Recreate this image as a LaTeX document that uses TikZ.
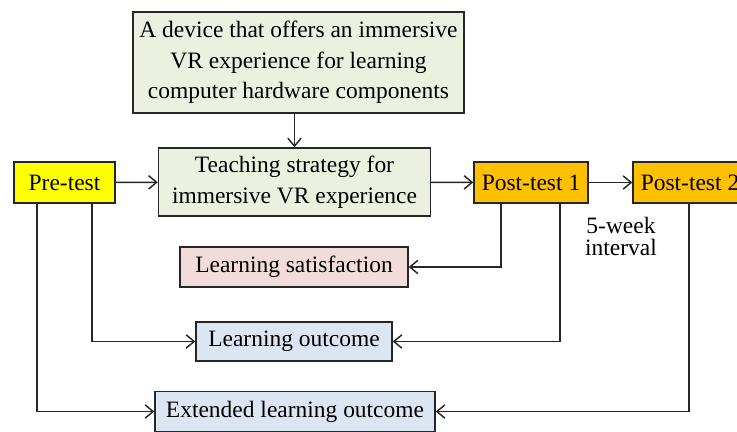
\documentclass[tikz,border=0pt]{standalone}
\usepackage{fontspec}
\setmainfont{Liberation Serif}
\usepackage{tikz}
\usetikzlibrary{arrows.meta}

\definecolor{pregreen}{HTML}{EBF1DE}
\definecolor{satpink}{HTML}{F2DCDB}
\definecolor{outblue}{HTML}{DCE6F2}
\definecolor{postorange}{HTML}{FFC000}
\definecolor{preyellow}{HTML}{FFFF00}

\begin{document}
\begin{tikzpicture}[x=0.75pt, y=-0.75pt,
    box/.style={rectangle, draw=black!85, line width=1.1pt, inner sep=0pt, align=center,
                font=\fontsize{17.6}{22.9}\selectfont},
    arr/.style={-{Straight Barb[length=6pt, width=10pt]}, line width=1.1pt, black!85}]
  \useasboundingbox (0,0) rectangle (737,431);
  \clip (0,0) rectangle (737,431);

  % Nodes
  \node[box, fill=pregreen, minimum width=331*0.75pt, minimum height=101*0.75pt] (device) at (298.5,62.5)
    {A device that offers an immersive\\VR experience for learning\\computer hardware components};
  \node[box, fill=pregreen, minimum width=272*0.75pt, minimum height=68*0.75pt] (teach) at (294.5,182)
    {Teaching strategy for\\immersive VR experience};
  \node[box, fill=preyellow, minimum width=101*0.75pt, minimum height=41*0.75pt] (pre) at (64.5,182.5) {Pre-test};
  \node[box, fill=postorange, minimum width=114*0.75pt, minimum height=41*0.75pt] (post1) at (531,182.5) {Post-test 1};
  \node[box, fill=postorange, minimum width=114*0.75pt, minimum height=41*0.75pt] (post2) at (690,182.5) {Post-test 2};
  \node[box, fill=satpink, minimum width=228*0.75pt, minimum height=40*0.75pt] (satis) at (294,267) {Learning satisfaction};
  \node[box, fill=outblue, minimum width=196*0.75pt, minimum height=39*0.75pt] (outcome) at (294,341.5) {Learning outcome};
  \node[box, fill=outblue, minimum width=280*0.75pt, minimum height=40*0.75pt] (ext) at (295,411.5) {Extended learning outcome};
  \node[align=center, inner sep=0pt, font=\fontsize{17.6}{16.5}\selectfont] (gap) at (621,236) {5-week\\interval};

  % Arrows
  \draw[arr] (teach.north |- device.south) -- (teach.north);
  \draw[arr] (pre) -- (teach);
  \draw[arr] (teach) -- (post1);
  \draw[arr] (post1) -- (post2);
  \draw[arr] ([xshift=-30*0.75pt]post1.south) |- (satis.east);
  \draw[arr] ([xshift=29*0.75pt]post1.south) |- (outcome.east);
  \draw[arr] ([xshift=27.5*0.75pt]pre.south) |- (outcome.west);
  \draw[arr] ([xshift=-27.5*0.75pt]pre.south) |- (ext.west);
  \draw[arr] ([xshift=-1*0.75pt]post2.south) |- (ext.east);
\end{tikzpicture}
\end{document}
